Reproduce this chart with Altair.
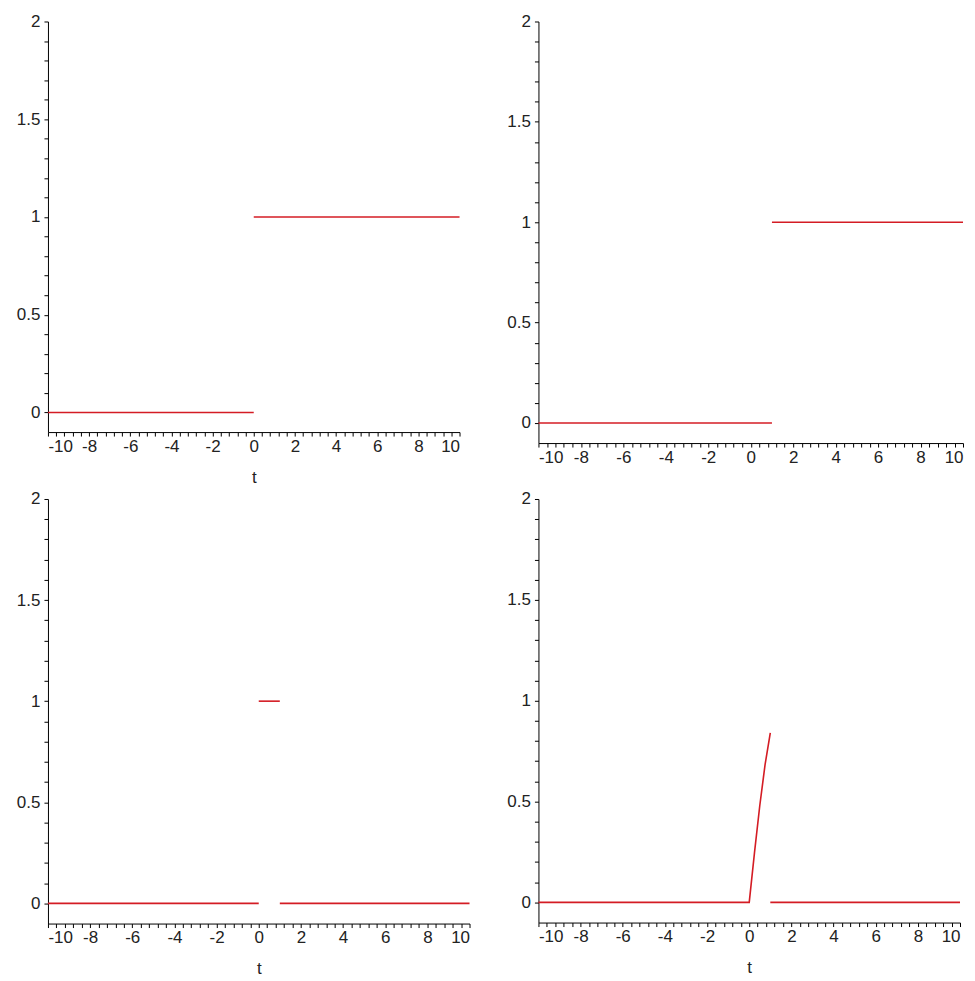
import altair as alt
import pandas as pd

RED = "#d41c24"
FONT = "Liberation Sans"

# Panel 1: Heaviside(t)
p1_t = [-10, 0, 0, 10]
p1_y = [0, 0, 1, 1]
p1_seg = [0, 0, 1, 1]

# Panel 2: Heaviside(t-1)
p2_t = [-10, 1, 1, 10]
p2_y = [0, 0, 1, 1]
p2_seg = [0, 0, 1, 1]

# Panel 3: pulse between 0 and 1
p3_t = [-10, 0, 0, 1, 1, 10]
p3_y = [0, 0, 1, 1, 0, 0]
p3_seg = [0, 0, 1, 1, 2, 2]

# Panel 4: sin(t) switched on between 0 and 1
p4_t = [-10, 0, 0.25, 0.5, 0.75, 1, 1, 10]
p4_y = [0, 0, 0.247, 0.479, 0.682, 0.841, 0, 0]
p4_seg = [0, 0, 0, 0, 0, 0, 1, 1]

x_ticks = [round(-10 + 0.4 * k, 1) for k in range(51)]
y_ticks = [round(0.1 * k, 1) for k in range(21)]

X_LABEL = "abs(datum.value % 2) < 0.001 ? ((datum.value < 0 ? '-' : '') + format(abs(datum.value), 'd')) : ''"
Y_LABEL = "abs(datum.value * 2 - round(datum.value * 2)) < 0.001 ? format(datum.value, '~g') : ''"


def panel(t, y, seg, w, h, title):
    df = pd.DataFrame({"t": t, "y": y, "seg": seg})
    if title:
        x_axis = alt.Axis(values=x_ticks, labelExpr=X_LABEL, labelFlush=True,
                          labelOverlap=False, title="t", titlePadding=15)
    else:
        x_axis = alt.Axis(values=x_ticks, labelExpr=X_LABEL, labelFlush=True,
                          labelOverlap=False, title=None)
    y_axis = alt.Axis(values=y_ticks, labelExpr=Y_LABEL, labelFlush=False,
                      labelOverlap=False, title=None, labelPadding=4)
    return alt.Chart(df).mark_line(color=RED, strokeWidth=1.6).encode(
        x=alt.X("t:Q", scale=alt.Scale(domain=[-10, 10], nice=False, zero=False), axis=x_axis),
        y=alt.Y("y:Q", scale=alt.Scale(domain=[-0.1, 2], nice=False, zero=False), axis=y_axis),
        detail="seg:N",
    ).properties(width=w, height=h)


p1 = panel(p1_t, p1_y, p1_seg, 412, 411, True)
p2 = panel(p2_t, p2_y, p2_seg, 425, 422, False)
p3 = panel(p3_t, p3_y, p3_seg, 422, 425, True)
p4 = panel(p4_t, p4_y, p4_seg, 422, 424, True)

chart = alt.concat(
    p1, p2, p3, p4, columns=2, spacing={"row": 56, "column": 69},
    bounds="flush", align="each",
).properties(
    padding={"left": 8, "top": 4, "right": 0, "bottom": 0}
).configure_view(stroke=None).configure_axis(
    grid=False,
    domainColor="black",
    tickColor="black",
    tickSize=4,
    labelPadding=2,
    labelFont=FONT,
    labelFontSize=17,
    labelColor="#222222",
    titleFont=FONT,
    titleFontSize=17,
    titleFontWeight="normal",
    titleColor="#222222",
)

chart.save("out.html", embed_options={"renderer": "svg", "actions": False})
